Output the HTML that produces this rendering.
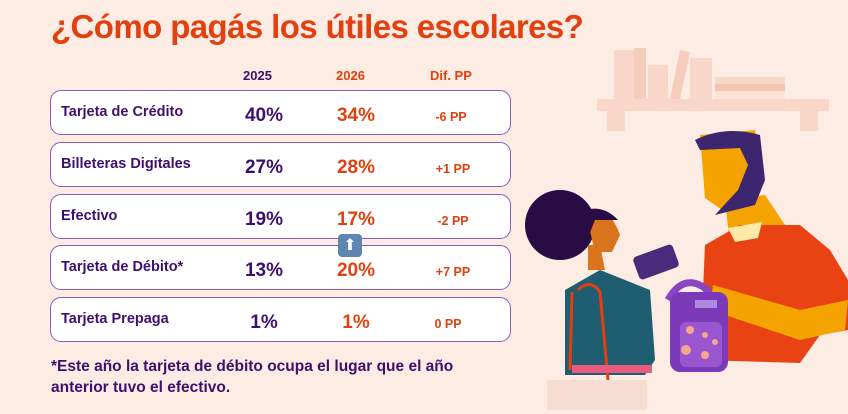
<!DOCTYPE html>
<html><head><meta charset="utf-8"><style>
body{margin:0;width:848px;height:414px;background:#fcece3;overflow:hidden;position:relative;font-family:"Liberation Sans",sans-serif}
.t{position:absolute;left:51px;top:8px;font-size:33px;color:#e2400e;font-weight:bold;letter-spacing:-0.6px}
.h{position:absolute;top:68px;font-size:13px;font-weight:bold}
.row{position:absolute;left:50px;width:461px;height:45px;background:#fff;border:1.3px solid #8a5cc0;border-radius:11px;box-sizing:border-box}
.l{position:absolute;left:10px;top:13px;font-size:14.5px;font-weight:bold;color:#3d1070}
.a{position:absolute;width:80px;text-align:center;top:14px;font-size:19px;font-weight:bold}
.d{position:absolute;width:80px;text-align:center;top:19px;font-size:12.5px;font-weight:bold;color:#e2400e}
.fn{position:absolute;left:51px;top:356px;font-size:15.5px;font-weight:bold;color:#3d1070;line-height:21px}
</style></head><body>
<div class="t">¿Cómo pagás los útiles escolares?</div>
<div class="h" style="left:243px;color:#3d1070">2025</div>
<div class="h" style="left:336px;color:#e2400e">2026</div>
<div class="h" style="left:430px;color:#e2400e">Dif. PP</div>

<div class="row" style="top:90px"><div class="l">Tarjeta de Crédito</div><div class="a" style="left:173px;color:#3d1070">40%</div><div class="a" style="left:265px;color:#e2400e">34%</div><div class="d" style="left:360px">-6 PP</div></div>
<div class="row" style="top:142px"><div class="l">Billeteras Digitales</div><div class="a" style="left:173px;color:#3d1070">27%</div><div class="a" style="left:265px;color:#e2400e">28%</div><div class="d" style="left:362px">+1 PP</div></div>
<div class="row" style="top:194px"><div class="l">Efectivo</div><div class="a" style="left:173px;color:#3d1070">19%</div><div class="a" style="left:265px;color:#e2400e">17%</div><div class="d" style="left:362px">-2 PP</div></div>
<div class="row" style="top:245px"><div class="l">Tarjeta de Débito*</div><div class="a" style="left:173px;color:#3d1070">13%</div><div class="a" style="left:265px;color:#e2400e">20%</div><div class="d" style="left:362px">+7 PP</div></div>
<div class="row" style="top:297px"><div class="l">Tarjeta Prepaga</div><div class="a" style="left:173px;color:#3d1070">1%</div><div class="a" style="left:265px;color:#e2400e">1%</div><div class="d" style="left:357px">0 PP</div></div>
<div style="position:absolute;left:338px;top:234px;width:24px;height:23px;background:#5e86b0;border-radius:4px;color:#fff;font-size:16px;text-align:center;line-height:23px">⬆</div>
<div class="fn">*Este año la tarjeta de débito ocupa el lugar que el año<br>anterior tuvo el efectivo.</div>

<svg style="position:absolute;left:500px;top:30px" width="348" height="384">
<rect x="97" y="69" width="232" height="12" fill="#f8d6c8"/>
<rect x="107" y="81" width="18" height="20" fill="#f8d6c8"/><rect x="300" y="81" width="18" height="20" fill="#f8d6c8"/>
<rect x="114" y="20" width="20" height="49" fill="#f8d6c8"/><rect x="134" y="18" width="12" height="51" fill="#f6cdbd"/><rect x="148" y="35" width="20" height="34" fill="#f8d6c8"/>
<polygon points="170,69 180,20 190,22 180,69" fill="#f6cdbd"/><rect x="190" y="28" width="22" height="41" fill="#f8d6c8"/>
<rect x="215" y="47" width="70" height="7" fill="#f8d6c8"/><rect x="215" y="54" width="70" height="7" fill="#f4c4b0"/><rect x="215" y="61" width="70" height="8" fill="#fbe3d8"/>
<!-- man -->
<path d="M225,170 L265,165 L285,195 L230,215 Z" fill="#f4a300"/>
<path d="M200,330 L205,215 L240,195 L300,195 L330,220 L348,250 L348,300 L320,305 L300,333 Z" fill="#e94313"/>
<path d="M228,198 L262,192 L258,208 L235,212 Z" fill="#fde9a8"/>
<path d="M200,105 L255,100 L262,150 L250,175 L225,182 L205,168 Z" fill="#f4a300"/>
<path d="M195,110 Q225,95 260,105 L265,150 L255,175 L215,185 L238,160 L248,135 L240,118 L200,120 Z" fill="#3e2570"/>
<path d="M213,255 L300,280 L348,270 L345,300 L300,310 L210,280 Z" fill="#f4a300"/>
<!-- woman -->
<circle cx="60" cy="195" r="35" fill="#2a0c45"/>
<path d="M85,180 Q110,175 120,205 L112,222 L95,222 Z" fill="#d9731c"/>
<path d="M72,185 Q100,170 118,190 L95,190 L85,215 L72,210 Z" fill="#2a0c45"/>
<path d="M88,215 L100,215 L105,240 L88,240 Z" fill="#d9731c"/>
<path d="M65,260 L100,240 L150,260 L155,330 L145,345 L65,345 Z" fill="#1e5e70"/>
<rect x="135" y="220" width="42" height="24" rx="4" fill="#4a2a7a" transform="rotate(-20 156 232)"/>
<path d="M78,260 Q90,248 100,262 L108,350" stroke="#e2400e" stroke-width="3" fill="none"/>
<path d="M70,340 L72,262" stroke="#e2400e" stroke-width="3" fill="none"/>
<rect x="72" y="335" width="80" height="8" fill="#e85a80"/>
<rect x="47" y="350" width="100" height="30" fill="#f6ddd0"/>
<!-- backpack -->
<path d="M168,270 Q185,240 210,262" stroke="#8a45c4" stroke-width="7" fill="none"/>
<rect x="170" y="262" width="58" height="80" rx="10" fill="#7b3ab8"/>
<rect x="180" y="292" width="42" height="45" rx="6" fill="#9a55d0"/>
<rect x="195" y="270" width="22" height="8" fill="#b08ae0"/>
<circle cx="190" cy="300" r="4" fill="#f4a78c"/><circle cx="205" cy="305" r="3" fill="#f4a78c"/><circle cx="186" cy="320" r="5" fill="#f4a78c"/><circle cx="205" cy="325" r="4" fill="#f4a78c"/><circle cx="215" cy="312" r="3" fill="#f4a78c"/>
</svg>
</body></html>
